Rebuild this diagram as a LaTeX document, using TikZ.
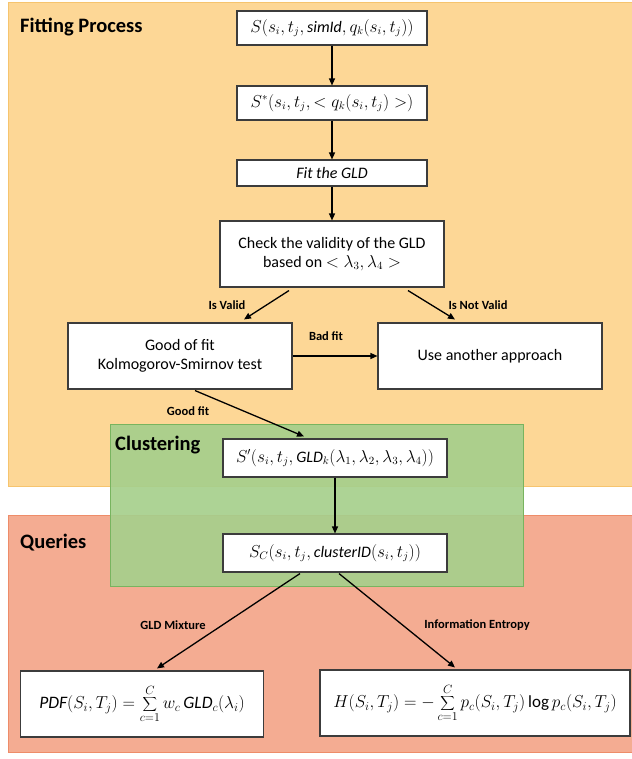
\documentclass[tikz,border=0pt]{standalone}
\usepackage{fontspec}
\setmainfont{Carlito}
\usetikzlibrary{arrows.meta}
\definecolor{orangebg}{RGB}{253,215,150}
\definecolor{orangeln}{RGB}{246,196,110}
\definecolor{salmonbg}{RGB}{244,172,146}
\definecolor{salmonln}{RGB}{238,140,105}
\definecolor{greenbg}{RGB}{166,207,140}
\definecolor{greenln}{RGB}{120,180,95}
\definecolor{boxln}{RGB}{60,60,60}
\tikzset{
  box/.style={draw=boxln, line width=1.1pt, fill=white, inner sep=2pt, align=center, font=\fontsize{16}{19}\selectfont},
  arr/.style={line width=1.3pt, -{Triangle[length=7pt,width=6pt]}},
  lbl/.style={font=\bfseries\fontsize{12.5}{14}\selectfont, inner sep=0pt},
  ttl/.style={font=\bfseries\fontsize{20.5}{24}\selectfont, inner sep=0pt, anchor=west},
}
\begin{document}
\begin{tikzpicture}[x=1pt,y=-1pt]
\useasboundingbox (0,0) rectangle (631,759);
% panels
\path[fill=orangebg, draw=orangeln, line width=0.8pt] (8,2) rectangle (640,486);
\path[fill=salmonbg, draw=salmonln, line width=0.8pt] (8,515) rectangle (640,752);
\path[fill=greenbg, draw=greenln, line width=0.8pt, fill opacity=0.92] (110,424) rectangle (523,586);
% titles
\node[ttl] (tfit) at (20,27) {Fitting Process};
\node[ttl] (tclu) at (115,445) {Clustering};
\node[ttl] (tque) at (20,543) {Queries};
% boxes
\node[box, minimum width=190pt, minimum height=34pt] (b1) at (332,28) {$S(s_i,t_j,\mathit{simId},q_k(s_i,t_j))$};
\node[box, minimum width=190pt, minimum height=34pt] (b2) at (332,103) {$S^{*}(s_i,t_j,<q_k(s_i,t_j)>)$};
\node[box, minimum width=190pt, minimum height=26pt] (b3) at (332,173) {$\mathit{Fit\ the\ GLD}$};
\node[box, minimum width=224pt, minimum height=66pt] (b4) at (332,254) {Check the validity of the GLD\\based on $<\lambda_3,\lambda_4>$};
\node[box, minimum width=224pt, minimum height=66pt] (b5) at (180,356) {Good of fit\\Kolmogorov-Smirnov test};
\node[box, minimum width=224pt, minimum height=66pt] (b6) at (490,356) {Use another approach};
\node[box, minimum width=224pt, minimum height=38pt] (b7) at (335,458) {$S'(s_i,t_j,\mathit{GLD}_k(\lambda_1,\lambda_2,\lambda_3,\lambda_4))$};
\node[box, minimum width=224pt, minimum height=38pt] (b8) at (335,553) {$S_C(s_i,t_j,\mathit{clusterID}(s_i,t_j))$};
\node[box, minimum width=243pt, minimum height=66pt, font=\fontsize{17.5}{20}\selectfont] (b9) at (142,704) {$\displaystyle \mathit{PDF}(S_i,T_j)=\sum_{c=1}^{C} w_c\,\mathit{GLD}_c(\lambda_i)$};
\node[box, minimum width=310pt, minimum height=66pt, font=\fontsize{17}{20}\selectfont] (b10) at (475,703) {$\displaystyle H(S_i,T_j)=-\sum_{c=1}^{C} p_c(S_i,T_j)\log p_c(S_i,T_j)$};
% arrows
\draw[arr] (b1) -- (b2);
\draw[arr] (b2) -- (b3);
\draw[arr] (b3) -- (b4);
\draw[arr] ([xshift=-43pt,yshift=-3pt]b4.south) -- ([xshift=64pt,yshift=3pt]b5.north);
\draw[arr] ([xshift=76pt,yshift=-3pt]b4.south) -- ([xshift=-35pt,yshift=3pt]b6.north);
\draw[arr] (b5.east) -- (b6.west);
\draw[arr] ([xshift=15pt,yshift=-1pt]b5.south) -- ([xshift=-31pt,yshift=2pt]b7.north);
\draw[arr] (b7) -- (b8);
\draw[arr] ([xshift=-35pt,yshift=-1pt]b8.south) -- ([xshift=15pt,yshift=2pt]b9.north);
\draw[arr] ([xshift=4pt,yshift=-1pt]b8.south) -- ([xshift=-20pt,yshift=2pt]b10.north);
% labels
\node[lbl] (l1) at (227,305) {Is Valid};
\node[lbl] (l2) at (478,305) {Is Not Valid};
\node[lbl] (l3) at (326,336) {Bad fit};
\node[lbl] (l4) at (188,411) {Good fit};
\node[lbl] (l5) at (173,625) {GLD Mixture};
\node[lbl] (l6) at (477,625) {Information Entropy};
\end{tikzpicture}
\end{document}
